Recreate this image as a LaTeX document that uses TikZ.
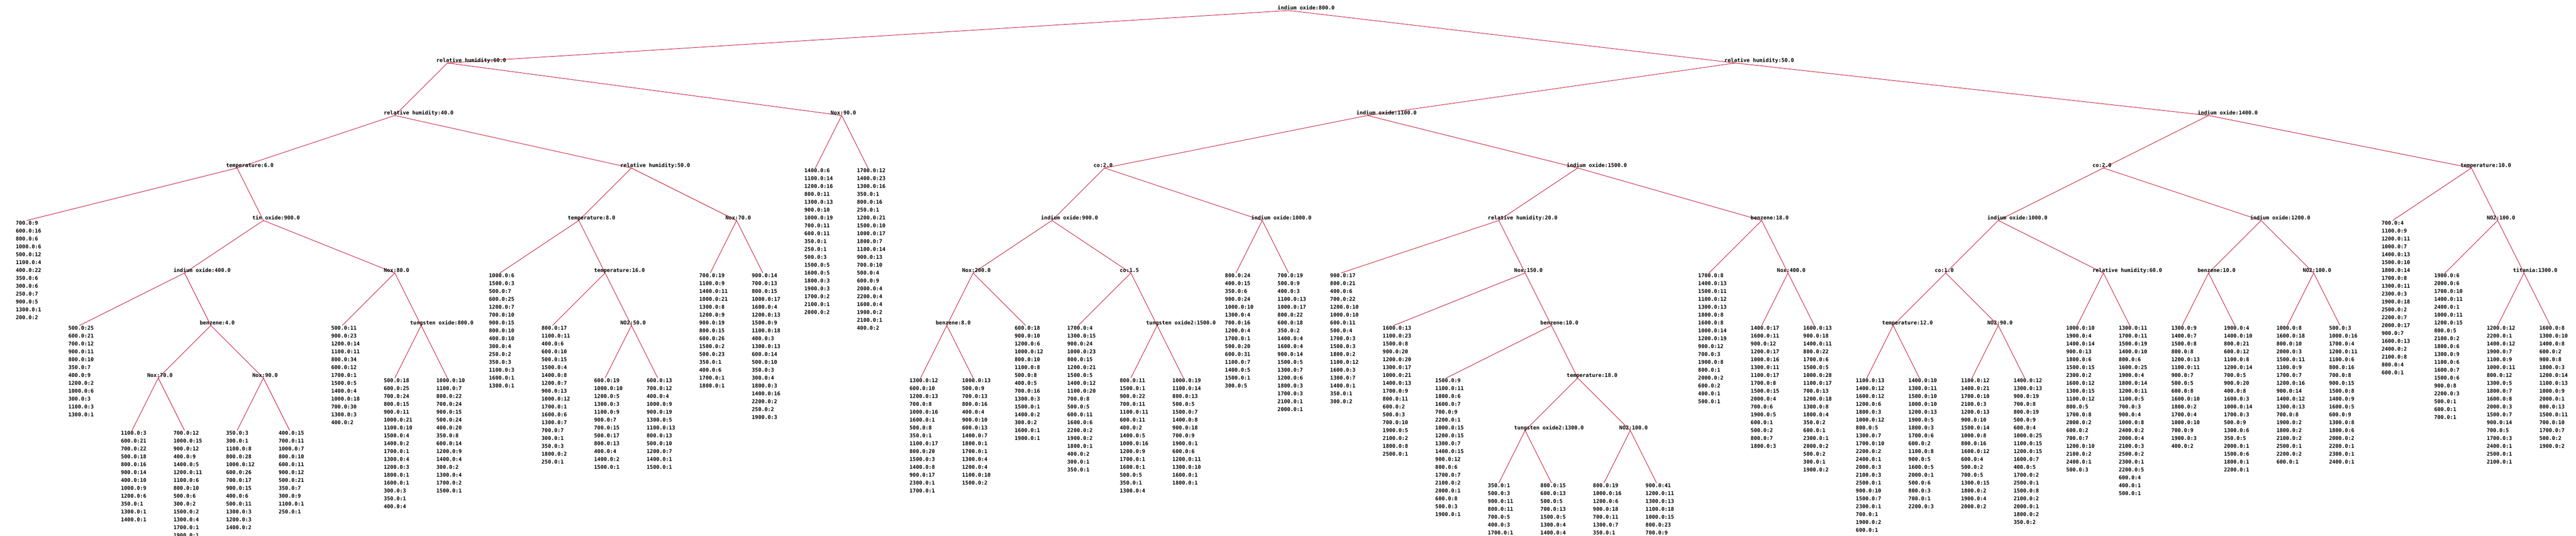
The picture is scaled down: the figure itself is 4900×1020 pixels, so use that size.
\documentclass[tikz,border=0pt]{standalone}
\usepackage{fontspec}
\setmonofont{DejaVu Sans Mono}
\usetikzlibrary{backgrounds}
\definecolor{edgered}{RGB}{200,20,50}
\tikzset{
  txt/.style={font=\ttfamily\bfseries\fontsize{10}{12}\selectfont, inner sep=0pt, anchor=base west, text=black},
  edge/.style={draw=edgered, line width=0.9pt}
}
% internal node: name, x, level, label
\newcommand{\inode}[4]{%
  \coordinate (#1) at (#2,{20+100*#3});
  \node[txt] (#1-t) at ({#2-21},{18.65+100*#3}) {#4};
}
% leaf: index, level, list of lines
\newcommand{\lf}[3]{%
  \coordinate (lf#1) at ({51+100*#1},{20+100*#2});
  \foreach \t [count=\k from 0] in {#3} {
    \node[txt] (lf#1-\k) at ({30+100*#1},{28.65+100*#2+15*\k}) {\t};
  }
}
\begin{document}
\begin{tikzpicture}[x=1pt,y=-1pt]
\useasboundingbox (0,0) rectangle (4900,1020);
% internal nodes
\inode{r}{2451}{0}{indium oxide:800.0}
\inode{a}{851}{1}{relative humidity:60.0}
\inode{b}{3301}{1}{relative humidity:50.0}
\inode{a1}{751}{2}{relative humidity:40.0}
\inode{a2}{1601}{2}{Nox:90.0}
\inode{a11}{451}{3}{temperature:6.0}
\inode{a12}{1201}{3}{relative humidity:50.0}
\inode{a112}{501}{4}{tin oxide:900.0}
\inode{a1121}{351}{5}{indium oxide:400.0}
\inode{a1122}{751}{5}{Nox:80.0}
\inode{a11212}{401}{6}{benzene:4.0}
\inode{n70}{301}{7}{Nox:70.0}
\inode{n90}{501}{7}{Nox:90.0}
\inode{tw8}{801}{6}{tungsten oxide:800.0}
\inode{t8}{1101}{4}{temperature:8.0}
\inode{n70b}{1401}{4}{Nox:70.0}
\inode{t16}{1151}{5}{temperature:16.0}
\inode{no50}{1201}{6}{NO2:50.0}
\inode{b1}{2601}{2}{indium oxide:1100.0}
\inode{b2}{4201}{2}{indium oxide:1400.0}
\inode{co2a}{2101}{3}{co:2.0}
\inode{io1500}{3001}{3}{indium oxide:1500.0}
\inode{io900}{2001}{4}{indium oxide:900.0}
\inode{io1000a}{2401}{4}{indium oxide:1000.0}
\inode{n200}{1851}{5}{Nox:200.0}
\inode{co15}{2151}{5}{co:1.5}
\inode{bz8}{1801}{6}{benzene:8.0}
\inode{tw1500}{2201}{6}{tungsten oxide2:1500.0}
\inode{rh20}{2851}{4}{relative humidity:20.0}
\inode{bz18}{3351}{4}{benzene:18.0}
\inode{n150}{2901}{5}{Nox:150.0}
\inode{bz10a}{2951}{6}{benzene:10.0}
\inode{t18}{3001}{7}{temperature:18.0}
\inode{tw1300}{2901}{8}{tungsten oxide2:1300.0}
\inode{no100a}{3101}{8}{NO2:100.0}
\inode{n400}{3401}{5}{Nox:400.0}
\inode{co2b}{4001}{3}{co:2.0}
\inode{t10}{4701}{3}{temperature:10.0}
\inode{io1000b}{3801}{4}{indium oxide:1000.0}
\inode{io1200}{4301}{4}{indium oxide:1200.0}
\inode{co10}{3701}{5}{co:1.0}
\inode{rh60b}{4001}{5}{relative humidity:60.0}
\inode{t12}{3601}{6}{temperature:12.0}
\inode{no90}{3801}{6}{NO2:90.0}
\inode{bz10b}{4201}{5}{benzene:10.0}
\inode{no100b}{4401}{5}{NO2:100.0}
\inode{no100c}{4751}{4}{NO2:100.0}
\inode{tit}{4801}{5}{titania:1300.0}
% leaves
\lf{0}{4}{700.0:9,600.0:16,800.0:6,1000.0:6,500.0:12,1100.0:4,400.0:22,350.0:6,300.0:6,250.0:7,900.0:5,1300.0:1,200.0:2}
\lf{1}{6}{500.0:25,600.0:21,700.0:12,900.0:11,800.0:10,350.0:7,400.0:9,1200.0:2,1000.0:6,300.0:3,1100.0:3,1300.0:1}
\lf{2}{8}{1100.0:3,600.0:21,700.0:22,500.0:18,800.0:16,900.0:14,400.0:10,1000.0:9,1200.0:6,350.0:1,1300.0:1,1400.0:1}
\lf{3}{8}{700.0:12,1000.0:15,900.0:12,400.0:9,1400.0:5,1200.0:11,1100.0:6,800.0:10,500.0:6,300.0:2,1500.0:2,1300.0:4,1700.0:1,1900.0:1}
\lf{4}{8}{350.0:3,300.0:1,1100.0:8,800.0:28,1000.0:12,600.0:26,700.0:17,900.0:15,400.0:6,500.0:11,1300.0:3,1200.0:3,1400.0:2}
\lf{5}{8}{400.0:15,700.0:11,1000.0:7,800.0:10,600.0:11,900.0:12,500.0:21,350.0:7,300.0:9,1100.0:1,250.0:1}
\lf{6}{6}{500.0:11,900.0:23,1200.0:14,1100.0:11,800.0:34,600.0:12,1700.0:1,1500.0:5,1400.0:4,1000.0:18,700.0:30,1300.0:3,400.0:2}
\lf{7}{7}{500.0:18,600.0:25,700.0:24,800.0:15,900.0:11,1000.0:21,1100.0:10,1500.0:4,1400.0:2,1700.0:1,1300.0:4,1200.0:3,1800.0:1,1600.0:1,300.0:3,350.0:1,400.0:4}
\lf{8}{7}{1000.0:10,1100.0:7,800.0:22,700.0:24,900.0:15,500.0:24,400.0:20,350.0:8,600.0:14,1200.0:9,1400.0:4,300.0:2,1300.0:4,1700.0:2,1500.0:1}
\lf{9}{5}{1000.0:6,1500.0:3,500.0:7,600.0:25,1200.0:7,700.0:10,900.0:15,800.0:10,400.0:10,300.0:4,250.0:2,350.0:3,1100.0:3,1600.0:1,1300.0:1}
\lf{10}{6}{800.0:17,1100.0:11,400.0:6,600.0:10,500.0:15,1500.0:4,1400.0:8,1200.0:7,900.0:13,1000.0:12,1700.0:1,1600.0:6,1300.0:7,700.0:7,300.0:1,350.0:3,1800.0:2,250.0:1}
\lf{11}{7}{600.0:19,1000.0:10,1200.0:5,1300.0:3,1100.0:9,900.0:7,700.0:15,500.0:17,800.0:13,400.0:4,1400.0:2,1500.0:1}
\lf{12}{7}{600.0:13,700.0:12,400.0:4,1000.0:9,900.0:19,1300.0:5,1100.0:13,800.0:13,500.0:10,1200.0:7,1400.0:1,1500.0:1}
\lf{13}{5}{700.0:19,1100.0:9,1400.0:11,1000.0:21,1300.0:8,1200.0:9,900.0:19,800.0:15,600.0:26,1500.0:2,500.0:23,350.0:1,400.0:6,1700.0:1,1800.0:1}
\lf{14}{5}{900.0:14,700.0:13,800.0:15,1000.0:17,1600.0:4,1200.0:13,1500.0:9,1100.0:18,400.0:3,1300.0:13,600.0:14,500.0:10,350.0:3,300.0:4,1800.0:3,1400.0:16,2200.0:2,250.0:2,1900.0:3}
\lf{15}{3}{1400.0:6,1100.0:14,1200.0:16,800.0:11,1300.0:13,900.0:10,1000.0:19,700.0:11,600.0:11,350.0:1,250.0:1,500.0:3,1500.0:5,1600.0:5,1800.0:3,1900.0:3,1700.0:2,2100.0:1,2000.0:2}
\lf{16}{3}{1700.0:12,1400.0:23,1300.0:16,350.0:1,800.0:16,250.0:1,1200.0:21,1500.0:10,1000.0:17,1800.0:7,1100.0:14,900.0:13,700.0:10,500.0:4,600.0:9,2000.0:4,2200.0:4,1600.0:4,1900.0:2,2100.0:1,400.0:2}
\lf{17}{7}{1300.0:12,600.0:10,1200.0:13,700.0:8,1000.0:16,1600.0:1,500.0:8,350.0:1,1100.0:17,800.0:20,1500.0:3,1400.0:8,900.0:17,2300.0:1,1700.0:1}
\lf{18}{7}{1000.0:13,500.0:9,700.0:13,800.0:16,400.0:4,900.0:10,600.0:13,1400.0:7,1800.0:1,1700.0:1,1300.0:4,1200.0:4,1100.0:10,1500.0:2}
\lf{19}{6}{600.0:18,900.0:10,1200.0:6,1000.0:12,800.0:10,1100.0:8,500.0:8,400.0:5,700.0:16,1300.0:3,1500.0:1,1400.0:2,300.0:2,1600.0:1,1900.0:1}
\lf{20}{6}{1700.0:4,1300.0:15,900.0:24,1000.0:23,800.0:15,1200.0:21,1500.0:5,1400.0:12,1100.0:20,700.0:8,500.0:5,600.0:11,1600.0:6,2200.0:2,1900.0:2,1800.0:1,400.0:2,300.0:1,350.0:1}
\lf{21}{7}{800.0:11,1500.0:1,900.0:22,700.0:11,1100.0:11,600.0:11,400.0:2,1400.0:5,1000.0:16,1200.0:9,1700.0:1,1600.0:1,500.0:5,350.0:1,1300.0:4}
\lf{22}{7}{1000.0:19,1100.0:14,800.0:13,500.0:5,1500.0:7,1400.0:8,900.0:18,700.0:9,1900.0:1,600.0:6,1200.0:11,1300.0:10,1600.0:1,1800.0:1}
\lf{23}{5}{800.0:24,400.0:15,350.0:6,900.0:24,1000.0:10,1300.0:4,700.0:16,1200.0:4,1700.0:1,500.0:20,600.0:31,1100.0:7,1400.0:5,1500.0:1,300.0:5}
\lf{24}{5}{700.0:19,500.0:9,400.0:3,1100.0:13,1000.0:17,800.0:22,600.0:18,350.0:2,1400.0:4,1600.0:4,900.0:14,1500.0:5,1300.0:7,1200.0:6,1800.0:3,1700.0:3,2100.0:1,2000.0:1}
\lf{25}{5}{900.0:17,800.0:21,400.0:6,700.0:22,1200.0:10,1000.0:10,600.0:11,500.0:4,1700.0:3,1500.0:3,1800.0:2,1100.0:12,1600.0:3,1300.0:7,1400.0:1,350.0:1,300.0:2}
\lf{26}{6}{1600.0:13,1100.0:23,1500.0:8,900.0:20,1200.0:20,1300.0:17,1000.0:21,1400.0:13,1700.0:9,800.0:11,600.0:2,500.0:3,700.0:10,1900.0:5,2100.0:2,1800.0:8,2500.0:1}
\lf{27}{7}{1500.0:9,1100.0:11,1800.0:6,1600.0:7,700.0:9,2200.0:1,1000.0:15,1200.0:15,1300.0:7,1400.0:15,900.0:12,800.0:6,1700.0:7,2100.0:2,2000.0:1,600.0:8,500.0:3,1900.0:1}
\lf{28}{9}{350.0:1,500.0:3,900.0:11,800.0:11,700.0:5,400.0:3,1700.0:1}
\lf{29}{9}{800.0:15,600.0:13,500.0:5,700.0:13,1500.0:5,1300.0:4,1400.0:4}
\lf{30}{9}{800.0:19,1000.0:16,1200.0:6,900.0:18,700.0:11,1300.0:7,350.0:1}
\lf{31}{9}{900.0:41,1200.0:11,1300.0:13,1100.0:18,1000.0:15,800.0:23,700.0:9}
\lf{32}{5}{1700.0:8,1400.0:13,1500.0:11,1100.0:12,1300.0:13,1800.0:8,1600.0:8,1000.0:14,1200.0:19,900.0:12,700.0:3,1900.0:8,800.0:1,2000.0:2,600.0:2,400.0:1,500.0:1}
\lf{33}{6}{1400.0:17,1600.0:11,900.0:12,1200.0:17,1000.0:16,1300.0:11,1100.0:17,1700.0:8,1500.0:15,2000.0:4,700.0:6,1900.0:5,600.0:1,500.0:2,800.0:7,1800.0:3}
\lf{34}{6}{1600.0:13,900.0:18,1400.0:11,800.0:22,1700.0:6,1500.0:5,1000.0:28,1100.0:17,700.0:13,1200.0:18,1300.0:8,1800.0:4,350.0:2,600.0:1,2300.0:1,2000.0:2,500.0:2,300.0:1,1900.0:2}
\lf{35}{7}{1100.0:13,1400.0:12,1600.0:12,1200.0:6,1800.0:3,1000.0:12,800.0:5,1300.0:7,1700.0:10,2200.0:2,2400.0:1,2000.0:3,2100.0:3,2500.0:1,900.0:10,1500.0:7,2300.0:1,700.0:1,1900.0:2,600.0:1}
\lf{36}{7}{1400.0:10,1300.0:11,1500.0:10,1000.0:10,1200.0:13,1900.0:5,1800.0:3,1700.0:6,600.0:2,1100.0:8,900.0:5,1600.0:5,2000.0:1,500.0:6,800.0:3,700.0:1,2200.0:3}
\lf{37}{7}{1100.0:12,1400.0:21,1700.0:10,2100.0:3,1200.0:13,900.0:10,1500.0:14,1000.0:8,800.0:16,1600.0:12,600.0:4,500.0:2,700.0:5,1300.0:15,1800.0:2,1900.0:4,2000.0:2}
\lf{38}{7}{1400.0:12,1300.0:13,900.0:19,700.0:8,800.0:19,500.0:9,600.0:4,1000.0:25,1100.0:15,1200.0:15,1600.0:7,400.0:5,1700.0:2,2500.0:1,1500.0:8,2100.0:2,2000.0:1,1800.0:2,350.0:2}
\lf{39}{6}{1000.0:10,1900.0:4,1400.0:14,900.0:13,1800.0:6,1500.0:15,2300.0:2,1600.0:12,1300.0:15,1100.0:12,800.0:5,1700.0:8,2000.0:2,600.0:2,700.0:7,1200.0:10,2100.0:2,2400.0:1,500.0:3}
\lf{40}{6}{1300.0:11,1700.0:11,1500.0:19,1400.0:10,800.0:6,1600.0:25,1900.0:4,1800.0:14,1200.0:11,1100.0:5,700.0:3,900.0:4,1000.0:8,2400.0:2,2000.0:4,2100.0:3,2500.0:2,2300.0:1,2200.0:5,600.0:4,400.0:1,500.0:1}
\lf{41}{6}{1300.0:9,1400.0:7,1500.0:8,800.0:8,1200.0:13,1100.0:11,900.0:7,500.0:5,600.0:8,1600.0:10,1800.0:2,1700.0:4,1000.0:10,700.0:9,1900.0:3,400.0:2}
\lf{42}{6}{1900.0:4,1400.0:10,800.0:21,600.0:12,1100.0:8,1200.0:14,700.0:5,900.0:20,400.0:8,1600.0:3,1000.0:14,1700.0:3,500.0:9,1300.0:6,350.0:5,2000.0:1,1500.0:6,1800.0:1,2200.0:1}
\lf{43}{6}{1000.0:8,1600.0:18,800.0:10,2000.0:3,1500.0:11,1100.0:9,1700.0:7,1200.0:16,900.0:14,1400.0:12,1300.0:13,700.0:8,1900.0:2,1800.0:2,2100.0:2,2500.0:1,2200.0:2,600.0:1}
\lf{44}{6}{500.0:3,1000.0:16,1700.0:4,1200.0:11,1100.0:6,800.0:16,700.0:8,900.0:15,1500.0:8,1400.0:9,1600.0:5,600.0:9,1300.0:8,1800.0:6,2000.0:2,2200.0:1,2300.0:1,2400.0:1}
\lf{45}{4}{700.0:4,1100.0:9,1200.0:11,1000.0:7,1400.0:13,1500.0:10,1800.0:14,1700.0:8,1300.0:11,2300.0:3,1900.0:18,2500.0:2,2200.0:7,2000.0:17,900.0:7,1600.0:13,2400.0:2,2100.0:8,800.0:4,600.0:1}
\lf{46}{5}{1900.0:6,2000.0:6,1700.0:10,1400.0:11,2400.0:1,1000.0:11,1200.0:15,800.0:5,2100.0:2,1800.0:6,1300.0:9,1100.0:6,1600.0:7,1500.0:6,900.0:8,2200.0:3,500.0:1,600.0:1,700.0:1}
\lf{47}{6}{1200.0:12,2200.0:1,1400.0:12,1900.0:7,1100.0:9,1000.0:11,800.0:12,1300.0:5,1800.0:7,1600.0:8,2000.0:3,1500.0:7,900.0:14,700.0:5,1700.0:3,2400.0:1,2500.0:1,2100.0:1}
\lf{48}{6}{1600.0:8,1300.0:10,1400.0:8,600.0:2,900.0:8,1800.0:3,1200.0:14,1100.0:13,1000.0:9,2000.0:1,800.0:13,1500.0:11,700.0:10,1700.0:7,500.0:2,1900.0:2}
% edges (drawn behind the texts)
\begin{scope}[on background layer]
\fill[white] (0,0) rectangle (4900,1020);
\draw[edge] (r) -- (a);
\draw[edge] (r) -- (b);
\draw[edge] (a) -- (a1);
\draw[edge] (a) -- (a2);
\draw[edge] (a1) -- (a11);
\draw[edge] (a1) -- (a12);
\draw[edge] (a11) -- (lf0);
\draw[edge] (a11) -- (a112);
\draw[edge] (a112) -- (a1121);
\draw[edge] (a112) -- (a1122);
\draw[edge] (a1121) -- (lf1);
\draw[edge] (a1121) -- (a11212);
\draw[edge] (a11212) -- (n70);
\draw[edge] (a11212) -- (n90);
\draw[edge] (n70) -- (lf2);
\draw[edge] (n70) -- (lf3);
\draw[edge] (n90) -- (lf4);
\draw[edge] (n90) -- (lf5);
\draw[edge] (a1122) -- (lf6);
\draw[edge] (a1122) -- (tw8);
\draw[edge] (tw8) -- (lf7);
\draw[edge] (tw8) -- (lf8);
\draw[edge] (a12) -- (t8);
\draw[edge] (a12) -- (n70b);
\draw[edge] (t8) -- (lf9);
\draw[edge] (t8) -- (t16);
\draw[edge] (t16) -- (lf10);
\draw[edge] (t16) -- (no50);
\draw[edge] (no50) -- (lf11);
\draw[edge] (no50) -- (lf12);
\draw[edge] (n70b) -- (lf13);
\draw[edge] (n70b) -- (lf14);
\draw[edge] (a2) -- (lf15);
\draw[edge] (a2) -- (lf16);
\draw[edge] (b) -- (b1);
\draw[edge] (b) -- (b2);
\draw[edge] (b1) -- (co2a);
\draw[edge] (b1) -- (io1500);
\draw[edge] (co2a) -- (io900);
\draw[edge] (co2a) -- (io1000a);
\draw[edge] (io900) -- (n200);
\draw[edge] (io900) -- (co15);
\draw[edge] (n200) -- (bz8);
\draw[edge] (n200) -- (lf19);
\draw[edge] (bz8) -- (lf17);
\draw[edge] (bz8) -- (lf18);
\draw[edge] (co15) -- (lf20);
\draw[edge] (co15) -- (tw1500);
\draw[edge] (tw1500) -- (lf21);
\draw[edge] (tw1500) -- (lf22);
\draw[edge] (io1000a) -- (lf23);
\draw[edge] (io1000a) -- (lf24);
\draw[edge] (io1500) -- (rh20);
\draw[edge] (io1500) -- (bz18);
\draw[edge] (rh20) -- (lf25);
\draw[edge] (rh20) -- (n150);
\draw[edge] (n150) -- (lf26);
\draw[edge] (n150) -- (bz10a);
\draw[edge] (bz10a) -- (lf27);
\draw[edge] (bz10a) -- (t18);
\draw[edge] (t18) -- (tw1300);
\draw[edge] (t18) -- (no100a);
\draw[edge] (tw1300) -- (lf28);
\draw[edge] (tw1300) -- (lf29);
\draw[edge] (no100a) -- (lf30);
\draw[edge] (no100a) -- (lf31);
\draw[edge] (bz18) -- (lf32);
\draw[edge] (bz18) -- (n400);
\draw[edge] (n400) -- (lf33);
\draw[edge] (n400) -- (lf34);
\draw[edge] (b2) -- (co2b);
\draw[edge] (b2) -- (t10);
\draw[edge] (co2b) -- (io1000b);
\draw[edge] (co2b) -- (io1200);
\draw[edge] (io1000b) -- (co10);
\draw[edge] (io1000b) -- (rh60b);
\draw[edge] (co10) -- (t12);
\draw[edge] (co10) -- (no90);
\draw[edge] (t12) -- (lf35);
\draw[edge] (t12) -- (lf36);
\draw[edge] (no90) -- (lf37);
\draw[edge] (no90) -- (lf38);
\draw[edge] (rh60b) -- (lf39);
\draw[edge] (rh60b) -- (lf40);
\draw[edge] (io1200) -- (bz10b);
\draw[edge] (io1200) -- (no100b);
\draw[edge] (bz10b) -- (lf41);
\draw[edge] (bz10b) -- (lf42);
\draw[edge] (no100b) -- (lf43);
\draw[edge] (no100b) -- (lf44);
\draw[edge] (t10) -- (lf45);
\draw[edge] (t10) -- (no100c);
\draw[edge] (no100c) -- (lf46);
\draw[edge] (no100c) -- (tit);
\draw[edge] (tit) -- (lf47);
\draw[edge] (tit) -- (lf48);
\end{scope}
\end{tikzpicture}
\end{document}
